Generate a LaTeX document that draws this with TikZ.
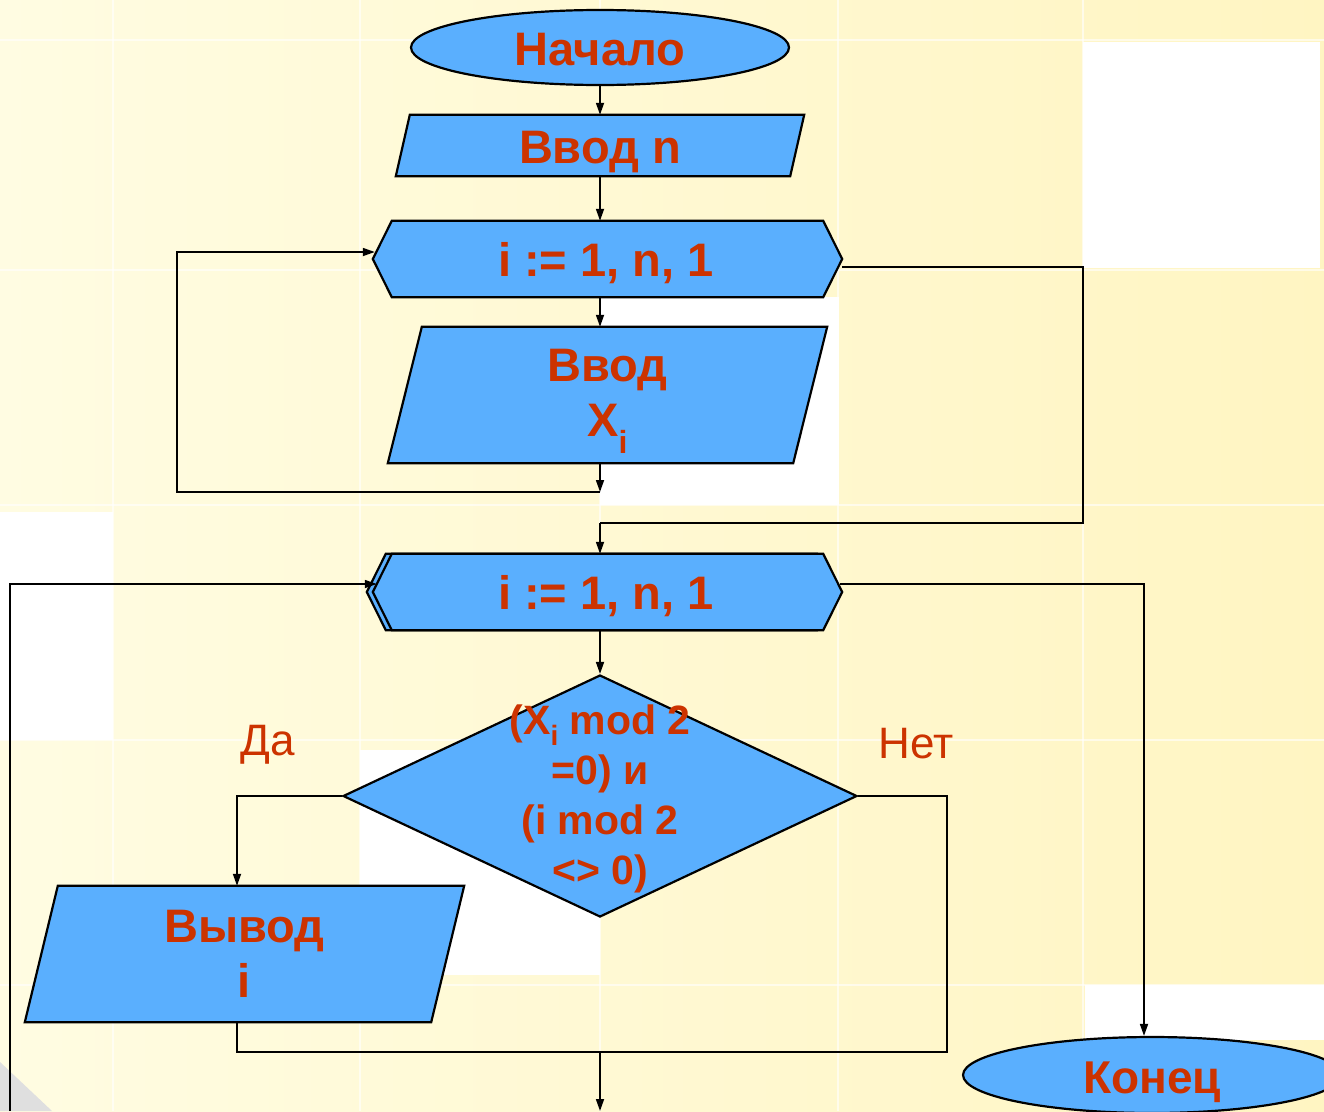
\documentclass[tikz,border=0pt]{standalone}
\usepackage{fontspec}
\setmainfont{Liberation Sans}
\usetikzlibrary{shapes.geometric,arrows.meta}
\definecolor{fillblue}{HTML}{5AAFFE}
\definecolor{txtred}{HTML}{CC3300}
\definecolor{bgA}{HTML}{FFFCE2}
\definecolor{bgB}{HTML}{FFF5C2}
\pgfdeclarelayer{bg}
\pgfdeclarelayer{shapes}
\pgfsetlayers{bg,shapes,main}
\newcommand\subi[2]{\raisebox{-#1}{\fontsize{#2}{#2}\selectfont i}}
\begin{document}
\begin{tikzpicture}[x=1pt,y=-1pt,
  shp/.style={draw=black,fill=fillblue,line width=2.2pt,line join=miter},
  frm/.style={inner sep=0pt},
  txt/.style={text=txtred,font=\bfseries\fontsize{47}{55}\selectfont,align=center,inner sep=0pt},
  lbl/.style={text=txtred,font=\fontsize{44}{44}\selectfont,inner sep=0pt},
  ln/.style={line width=1.7pt},
  arr/.style={line width=1.7pt,-{Triangle[length=12pt,width=8pt]}},
  tile/.style={white,opacity=0.6,line width=1.2pt}]
\useasboundingbox (0,0) rectangle (1324,1111);
\begin{pgfonlayer}{bg}
\fill[left color=bgA,right color=bgB] (0,0) rectangle (1324,1111);
\foreach \xx in {113,360,600,838,1083} \draw[tile] (\xx,0) -- (\xx,1111);
\foreach \yy in {40,270,505,740,985} \draw[tile] (0,\yy) -- (1324,\yy);
\fill[white] (1083,42) rectangle (1320,268);
\fill[white] (600,297) rectangle (839,505);
\fill[white] (0,512) rectangle (113,740);
\fill[white] (360,750) rectangle (600,975);
\fill[white] (1085,985) rectangle (1324,1040);
\fill[gray!25] (0,1062) -- (52,1111) -- (0,1111) -- cycle;
\end{pgfonlayer}

% shape frames
\node[shp,ellipse,frm,minimum width=378pt,minimum height=75pt] (start) at (600,47.5) {};
\node[frm,minimum width=408pt,minimum height=61pt] (in1) at (600,145.5) {};
\node[frm,minimum width=469pt,minimum height=76pt] (l1) at (607.5,259) {};
\node[frm,minimum width=439pt,minimum height=136pt] (in2) at (607.5,395) {};
\node[frm,minimum width=469pt,minimum height=76pt] (l2b) at (601.5,592) {};
\node[frm,minimum width=469pt,minimum height=76pt] (l2) at (607.5,592) {};
\node[shp,diamond,frm,minimum width=514pt,minimum height=242pt] (dec) at (600,796) {};
\node[frm,minimum width=439pt,minimum height=136pt] (out) at (244.5,954) {};
\node[shp,ellipse,frm,minimum width=378pt,minimum height=76pt] (end) at (1152,1075) {};

% shapes
\begin{pgfonlayer}{shapes}
\draw[shp] ([xshift=14pt]in1.north west) -- (in1.north east) -- ([xshift=-14pt]in1.south east) -- (in1.south west) -- cycle;
\draw[shp] (l1.west) -- ([xshift=19pt]l1.north west) -- ([xshift=-19pt]l1.north east) -- (l1.east) -- ([xshift=-19pt]l1.south east) -- ([xshift=19pt]l1.south west) -- cycle;
\draw[shp] ([xshift=34pt]in2.north west) -- (in2.north east) -- ([xshift=-34pt]in2.south east) -- (in2.south west) -- cycle;
\draw[shp] (l2b.west) -- ([xshift=19pt]l2b.north west) -- ([xshift=-19pt]l2b.north east) -- (l2b.east) -- ([xshift=-19pt]l2b.south east) -- ([xshift=19pt]l2b.south west) -- cycle;
\draw[shp] (l2.west) -- ([xshift=19pt]l2.north west) -- ([xshift=-19pt]l2.north east) -- (l2.east) -- ([xshift=-19pt]l2.south east) -- ([xshift=19pt]l2.south west) -- cycle;
\draw[shp] ([xshift=33pt]out.north west) -- (out.north east) -- ([xshift=-33pt]out.south east) -- (out.south west) -- cycle;
\end{pgfonlayer}

% texts
\node[txt,anchor=base] (startt) at (600,65) {Начало};
\node[txt,anchor=base] (in1t) at (600,163) {Ввод n};
\node[txt,anchor=base] (l1t) at (606,276) {i := 1, n, 1};
\node[txt] (in2t) at (607.5,401) {Ввод\\X\subi{17pt}{32}};
\node[txt,anchor=base] (l2t) at (606,609) {i := 1, n, 1};
\node[txt,font=\bfseries\fontsize{41}{50}\selectfont] (dect) at (600,799) {(X\subi{11pt}{28} mod 2\\=0) и\\(i mod 2\\<> 0)};
\node[txt] (outt) at (244.5,954) {Вывод\\i};
\node[txt,anchor=base,font=\bfseries\fontsize{46}{46}\selectfont] (endt) at (1152,1093) {Конец};
\node[lbl] (yes) at (268,745) {Да};
\node[lbl] (no) at (916,744) {Нет};

% coordinates
\coordinate (j1) at (600,492);
\coordinate (c1) at (177,492);
\coordinate (r1) at (1083,267);
\coordinate (r2) at (1083,523);
\coordinate (j2) at (600,523);
\coordinate (a1) at (237,796);
\coordinate (b1) at (237,1052);
\coordinate (b2) at (947,1052);
\coordinate (b3) at (600,1052);
\coordinate (b4) at (600,1111);
\coordinate (d1) at (10,1111);
\coordinate (d2) at (10,584);
\coordinate (e1) at (1144,584);

% connectors
\draw[arr] (start.south) -- (in1.north);
\draw[arr] (in1.south) -- (in1.south |- l1.north);
\draw[arr] (in1.south |- l1.south) -- (in1.south |- in2.north);
\draw[arr] (in1.south |- in2.south) -- (j1);
\draw[arr] (j1) -- (c1) |- ([yshift=7pt,xshift=2pt]l1.west);
\draw[ln] ([yshift=-8pt]l1.east) -- (r1) -- (r2) -- (j2);
\draw[arr] (j2) -- (j2 |- l2.north);
\draw[arr] (dec.north |- l2.south) -- (dec.north);
\draw[arr] (dec.west) -- (a1) -- (a1 |- out.north);
\draw[ln] (a1 |- out.south) -- (b1) -- (b2) |- (dec.east);
\draw[arr] (b3) -- (b4);
\draw[arr] (d1) -- (d2) -- ([yshift=8pt,xshift=4pt]l2.west);
\draw[arr] ([yshift=8pt,xshift=-2pt]l2.east) -- (e1) -- (e1 |- end.north);
\end{tikzpicture}
\end{document}
